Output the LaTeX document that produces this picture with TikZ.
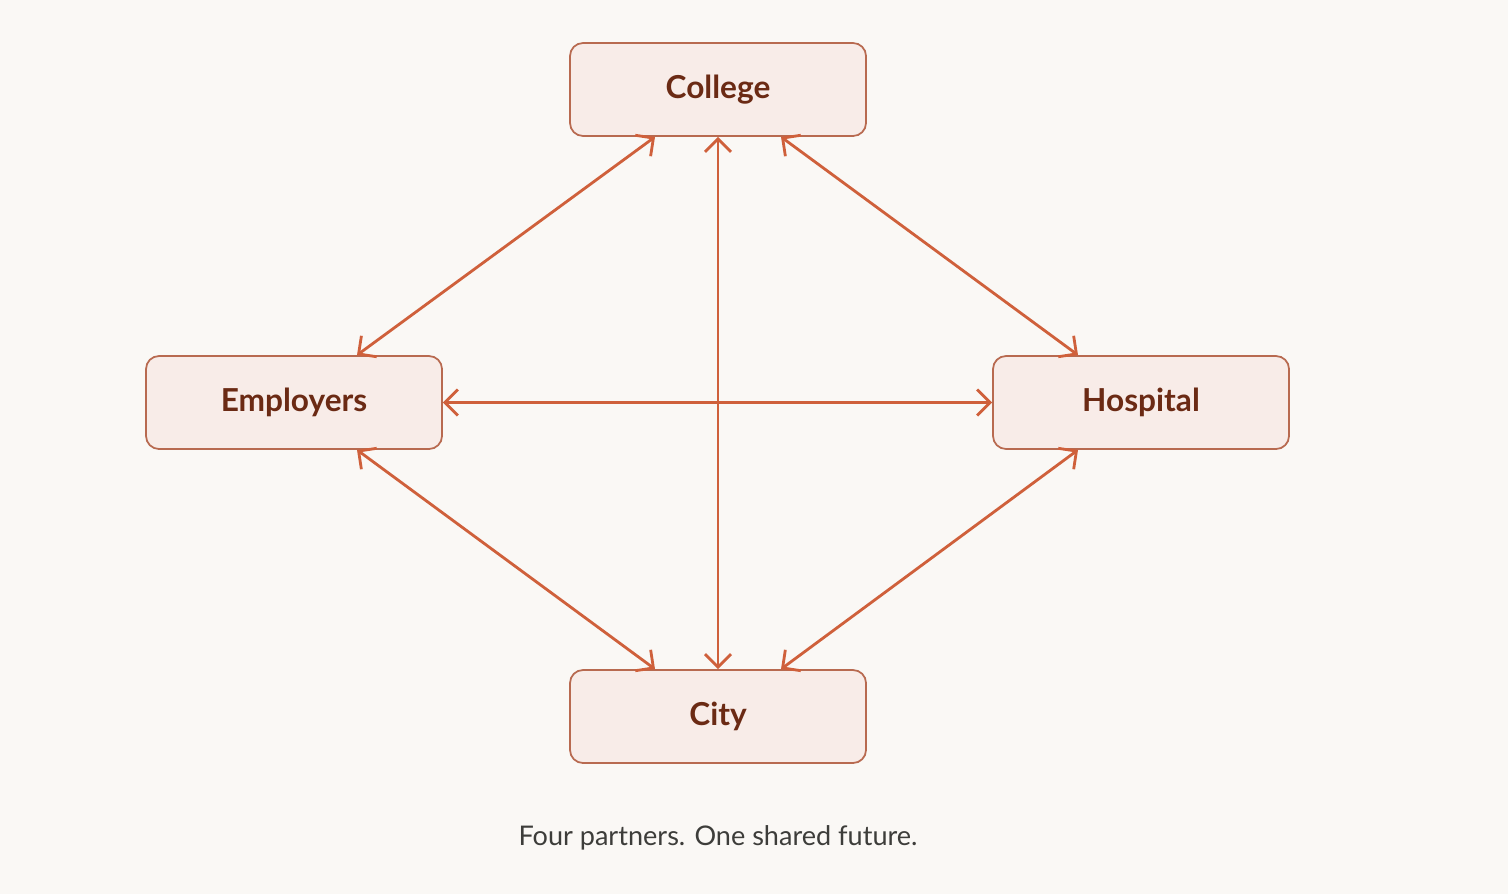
\documentclass[tikz,border=0pt]{standalone}
\usepackage{fontspec}
\setmainfont{Lato}
\usetikzlibrary{arrows.meta, positioning}
\definecolor{pagebg}{HTML}{FAF8F5}
\definecolor{boxfill}{HTML}{F8ECE8}
\definecolor{boxline}{HTML}{B86A50}
\definecolor{labeltext}{HTML}{6B2A14}
\definecolor{linkline}{HTML}{CF603B}
\definecolor{captiontext}{HTML}{3D3D3A}

\tikzset{
  partner/.style={draw=boxline, line width=0.5pt, fill=boxfill, rounded corners=0.13cm,
    minimum width=2.96cm, minimum height=0.93cm, text=labeltext, font=\fontsize{9}{10}\selectfont\bfseries},
  link/.style={draw=linkline, line width=0.8pt, {Straight Barb[length=1.3mm,width=2.6mm]}-{Straight Barb[length=1.3mm,width=2.6mm]}}
}

\begin{document}
\begin{tikzpicture}
% Background and bounding box
\fill[pagebg] (0,0) rectangle (15.08,8.94);
\useasboundingbox (0,0) rectangle (15.08,8.94);

% Partners
\node[partner] (college) at (7.18,8.045) {College};
\node[partner] (employers) at (2.94,4.915) {Employers};
\node[partner] (hospital) at (11.41,4.915) {Hospital};
\node[partner] (city) at (7.18,1.775) {City};

% Links
\draw[link] ([xshift=-0.63cm]college.south) -- ([xshift=0.63cm]employers.north);
\draw[link] ([xshift=0.63cm]college.south) -- ([xshift=-0.63cm]hospital.north);
\draw[link] ([xshift=0.63cm]employers.south) -- ([xshift=-0.63cm]city.north);
\draw[link] ([xshift=-0.63cm]hospital.south) -- ([xshift=0.63cm]city.north);
\draw[link] (college.south) -- (city.north);
\draw[link] (employers.east) -- (hospital.west);

% Caption
\node[text=captiontext, font=\fontsize{7.7}{9}\selectfont] (caption) at (7.18,0.56) {Four partners. One shared future.};
\end{tikzpicture}
\end{document}
